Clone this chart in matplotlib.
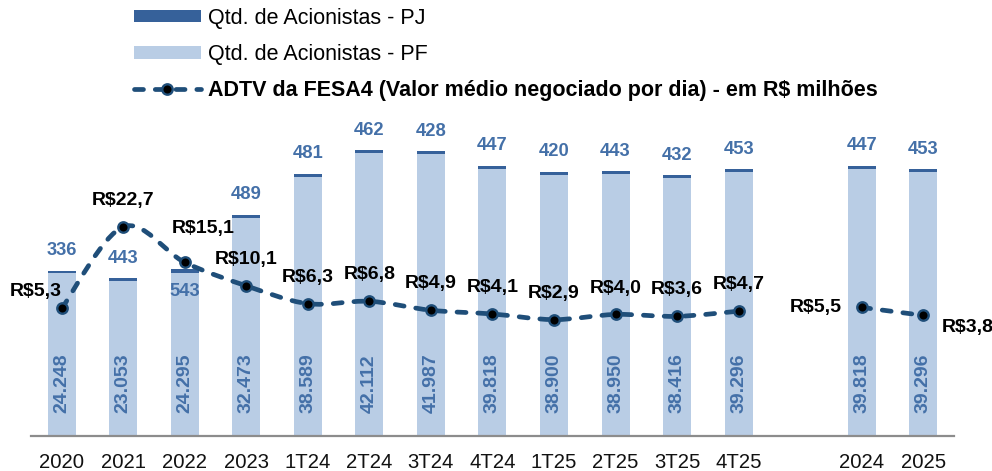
import numpy as np
import matplotlib
matplotlib.use("Agg")
import matplotlib.pyplot as plt
from matplotlib.path import Path
from matplotlib.patches import PathPatch, Patch
from matplotlib.lines import Line2D

plt.rcParams['font.family'] = ['Liberation Sans', 'DejaVu Sans']

# data
periods = ['2020', '2021', '2022', '2023', '1T24', '2T24', '3T24', '4T24',
           '1T25', '2T25', '3T25', '4T25', '2024', '2025']
pf = [24248, 23053, 24295, 32473, 38589, 42112, 41987, 39818,
      38900, 38950, 38416, 39296, 39818, 39296]
pj = [336, 443, 543, 489, 481, 462, 428, 447, 420, 443, 432, 453, 447, 453]
adtv = [5.3, 22.7, 15.1, 10.1, 6.3, 6.8, 4.9, 4.1, 2.9, 4.0, 3.6, 4.7, 5.5, 3.8]

# slot positions: quarterly series, one empty slot, then yearly
xpos = list(range(12)) + [13, 14]
groups = [list(range(12)), [12, 13]]

C_PF = '#b9cde5'
C_PJ = '#36619a'
C_LBL = '#4470a8'
C_LINE = '#1f4e79'

fig = plt.figure(figsize=(9.92, 4.71), dpi=100)
ax = fig.add_axes([0.03125, 0.0743, 0.9304, 0.6709])
ax2 = ax.twinx()

ax.bar(xpos, pf, width=0.455, color=C_PF, zorder=2)
ax.bar(xpos, pj, width=0.455, bottom=pf, color=C_PJ, zorder=2)

ax.set_xlim(-0.5, 14.5)
ax.set_ylim(0, 47060)
ax2.set_ylim(-21.92, 45.46)

for s in ['top', 'left', 'right']:
    ax.spines[s].set_visible(False)
    ax2.spines[s].set_visible(False)
ax2.spines['bottom'].set_visible(False)
ax.spines['bottom'].set_color('#8c8c8c')
ax.spines['bottom'].set_linewidth(1.6)
ax.set_yticks([])
ax2.set_yticks([])
ax.set_xticks(xpos)
ax.set_xticklabels(periods, fontsize=14.6, color='#111111')
ax.tick_params(axis='x', length=0, pad=12.5)

# bar labels
for i, (x, a, b) in enumerate(zip(xpos, pf, pj)):
    ax.annotate(f"{a/1000:.3f}", (x, 0), xytext=(0, 16.5), textcoords='offset points',
                rotation=90, ha='center', va='bottom', fontsize=14,
                fontweight='bold', color=C_LBL, zorder=3)
    dy = -15.8 if periods[i] == '2022' else 14.4
    ax.annotate(str(b), (x, a + b), xytext=(0, dy), textcoords='offset points',
                ha='center', va='center', fontsize=13.2, fontweight='bold',
                color=C_LBL, zorder=3)

# smoothed ADTV line (Catmull-Rom as cubic Bezier segments)
for g in groups:
    px = [xpos[k] for k in g]
    py = [adtv[k] for k in g]
    n = len(px)
    verts = [(px[0], py[0])]
    codes = [Path.MOVETO]
    for k in range(n - 1):
        k0 = max(k - 1, 0)
        k3 = min(k + 2, n - 1)
        c1 = (px[k] + (px[k + 1] - px[k0]) / 6, py[k] + (py[k + 1] - py[k0]) / 6)
        c2 = (px[k + 1] - (px[k3] - px[k]) / 6, py[k + 1] - (py[k3] - py[k]) / 6)
        verts += [c1, c2, (px[k + 1], py[k + 1])]
        codes += [Path.CURVE4] * 3
    patch = PathPatch(Path(verts, codes), fill=False, edgecolor=C_LINE, lw=3.4,
                      linestyle=(0, (1.9, 2.5)), capstyle='round', zorder=4)
    ax2.add_patch(patch)

ax2.plot(xpos, adtv, linestyle='none', marker='o', markersize=7.5,
         markerfacecolor='black', markeredgecolor=C_LINE, markeredgewidth=1.7, zorder=5)

offsets = {'2020': (-19, 12), '2022': (13, 24.5), '2024': (-33, 0), '2025': (32, -8.5)}
for x, v, p in zip(xpos, adtv, periods):
    dx, dy = offsets.get(p, (0, 19))
    ax2.annotate(f"R${v:.1f}".replace('.', ','), (x, v), xytext=(dx, dy),
                 textcoords='offset points', ha='center', va='center',
                 fontsize=14, fontweight='bold', color='black', zorder=6)

handles = [Patch(facecolor=C_PJ), Patch(facecolor=C_PF),
           Line2D([], [], color=C_LINE, lw=3.4, linestyle=(0, (1.9, 2.5)),
                  dash_capstyle='round', marker='o', markersize=7.5,
                  markerfacecolor='black', markeredgecolor=C_LINE, markeredgewidth=1.7)]
labels = ['Qtd. de Acionistas - PJ', 'Qtd. de Acionistas - PF',
          'ADTV da FESA4 (Valor médio negociado por dia) - em R$ milhões']
leg = fig.legend(handles, labels, loc='upper left', bbox_to_anchor=(134 / 992, 1 - 8 / 471),
                 frameon=False, fontsize=15.5, handlelength=3.1, handleheight=0.5,
                 handletextpad=0.33, labelspacing=0.7, borderpad=0, borderaxespad=0)
leg.get_texts()[2].set_fontweight('bold')

fig.savefig('out.png', dpi=100)
